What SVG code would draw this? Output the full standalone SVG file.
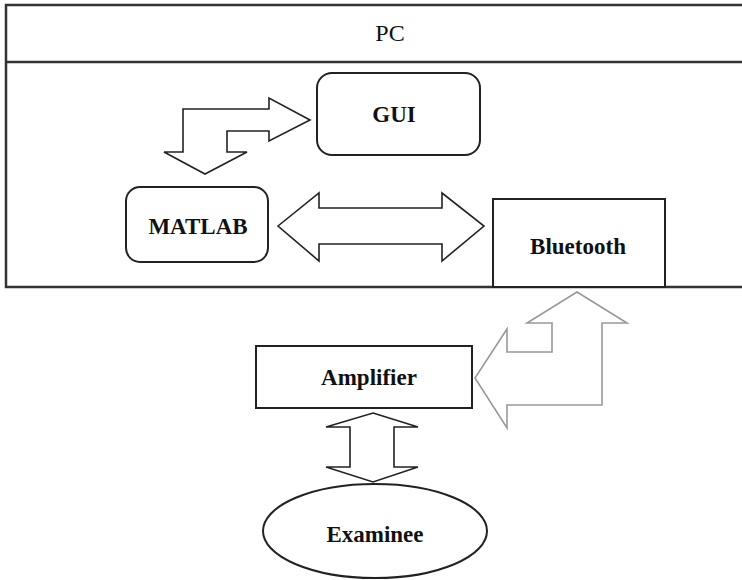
<svg xmlns="http://www.w3.org/2000/svg" width="742" height="580" viewBox="0 0 742 580">
<style>
.box{fill:#fff;stroke:#222;stroke-width:2}
.frame{fill:none;stroke:#333;stroke-width:2.5}
.arr{fill:#fff;stroke:#222;stroke-width:1.6;stroke-linejoin:miter}
.garr{fill:#fff;stroke:#999;stroke-width:1.6}
.lbl{font-family:"Liberation Serif","Times New Roman",serif;font-size:23px;font-weight:bold;fill:#111;text-anchor:middle}
.pc{font-family:"Liberation Serif","Times New Roman",serif;font-size:24px;fill:#111;text-anchor:middle}
</style>
<rect width="742" height="580" fill="#fff"/>
<g id="pc">
<path class="frame" d="M742,5 H6 V287 H742"/>
<line class="frame" x1="6" y1="62" x2="742" y2="62"/>
<text class="pc" x="390" y="41">PC</text>
</g>
<g id="connectors">
<polygon class="arr" points="310,120 269,98 269,109 183,109 183,152 164,152 205,174 247,152 227,152 227,131 269,131 269,141"/>
<polygon class="arr" points="278,226 319,193 319,208 442,208 442,193 484,226 442,261 442,244 319,244 319,261"/>
<polygon class="garr" points="577,292 627,323 602,323 602,405 507,405 507,428 475,378 507,329 507,352 552,352 552,323 527,323"/>
<polygon class="arr" points="373,413 418,427 394,427 394,467 418,467 373,482 326,467 350,467 350,427 326,427"/>
</g>
<g id="gui">
<rect class="box" x="317" y="73" width="163" height="82" rx="15"/>
<text class="lbl" x="394" y="122">GUI</text>
</g>
<g id="matlab">
<rect class="box" x="126" y="187" width="142" height="75" rx="14"/>
<text class="lbl" x="198" y="234">MATLAB</text>
</g>
<g id="bluetooth">
<rect class="box" x="493" y="199" width="172" height="88"/>
<text class="lbl" x="578" y="254">Bluetooth</text>
</g>
<g id="amplifier">
<rect class="box" x="256" y="346" width="216" height="62"/>
<text class="lbl" x="369" y="385">Amplifier</text>
</g>
<g id="examinee">
<ellipse class="box" cx="375" cy="531" rx="112" ry="47"/>
<text class="lbl" x="375" y="542">Examinee</text>
</g>
</svg>
